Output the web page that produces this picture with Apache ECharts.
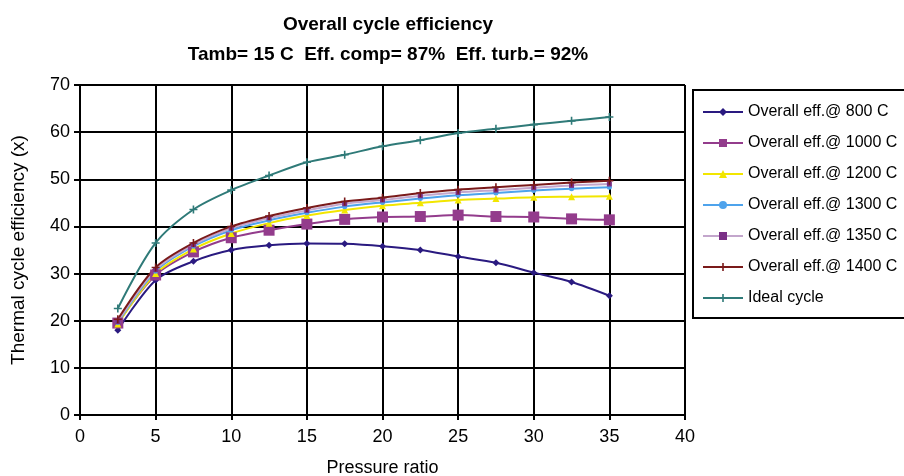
<!DOCTYPE html>
<html>
<head>
<meta charset="utf-8">
<script src="https://cdn.jsdelivr.net/npm/echarts@6/dist/echarts.min.js"></script>
<style>
  html, body { margin: 0; padding: 0; background: #fff; }
  #chart { width: 904px; height: 476px; }
</style>
</head>
<body>
<div id="chart"></div>
<script>
  // pressure ratios where the points sit
  var pressureRatio = [2.5, 5, 7.5, 10, 12.5, 15, 17.5, 20, 22.5, 25, 27.5, 30, 32.5, 35]

  // efficiencies (%)
  var eff800 = [18.0, 28.6, 32.6, 35.0, 36.0, 36.4, 36.3, 35.8, 35.0, 33.6, 32.3, 30.2, 28.2, 25.3]
  var eff1000 = [19.5, 29.7, 34.6, 37.6, 39.2, 40.5, 41.5, 42.0, 42.1, 42.4, 42.1, 42.0, 41.6, 41.4]
  var eff1200 = [19.3, 30.0, 35.2, 38.5, 40.7, 42.3, 43.5, 44.4, 45.0, 45.6, 45.9, 46.2, 46.3, 46.4]
  var eff1300 = [19.6, 30.5, 35.8, 39.2, 41.3, 42.9, 44.2, 45.1, 45.9, 46.6, 47.1, 47.6, 48.0, 48.3]
  var eff1350 = [19.8, 30.8, 36.1, 39.6, 41.8, 43.4, 44.8, 45.6, 46.5, 47.2, 47.7, 48.2, 48.7, 49.0]
  var eff1400 = [20.3, 31.3, 36.5, 40.0, 42.2, 43.9, 45.3, 46.1, 47.1, 47.8, 48.3, 48.8, 49.3, 49.7]
  var effIdeal = [22.6, 36.5, 43.6, 47.7, 50.8, 53.6, 55.2, 57.0, 58.3, 59.8, 60.7, 61.6, 62.4, 63.2]

  var seriesNames = ['Overall eff.@ 800 C', 'Overall eff.@ 1000 C', 'Overall eff.@ 1200 C',
    'Overall eff.@ 1300 C', 'Overall eff.@ 1350 C', 'Overall eff.@ 1400 C', 'Ideal cycle']

  var fontFam = '"Liberation Sans", Arial, sans-serif'

  // small plus sign used as marker
  var plusPath = 'path://M4,0 L6,0 L6,4 L10,4 L10,6 L6,6 L6,10 L4,10 L4,6 L0,6 L0,4 L4,4 Z'

  function pairs(ys) {
    return pressureRatio.map(function (x, i) { return [x, ys[i]] })
  }

  // one line series
  function makeSeries(name, ys, color, symbol, size, lineColor) {
    return {
      name: name,
      type: 'line',
      smooth: 0.3,
      data: pairs(ys),
      symbol: symbol,
      symbolSize: size,
      itemStyle: { color: color },
      lineStyle: { color: lineColor || color, width: 2 }
    }
  }

  var chart = echarts.init(document.getElementById('chart'))
  chart.setOption({
    animation: false,
    textStyle: { fontFamily: fontFam },
    title: {
      text: 'Overall cycle efficiency',
      subtext: 'Tamb= 15 C  Eff. comp= 87%  Eff. turb.= 92%',
      left: 383,
      top: 10,
      textAlign: 'center',
      itemGap: 11,
      textStyle: { fontFamily: fontFam, fontSize: 19, fontWeight: 'bold', color: '#000' },
      subtextStyle: { fontFamily: fontFam, fontSize: 19, fontWeight: 'bold', color: '#000' }
    },
    grid: { left: 80, top: 85, right: 219, bottom: 61, outerBoundsMode: 'none' },
    legend: {
      orient: 'vertical',
      left: 697,
      top: 99,
      itemGap: 15,
      itemWidth: 40,
      itemHeight: 10,
      textStyle: { fontFamily: fontFam, fontSize: 16, color: '#000' },
      data: seriesNames
    },
    graphic: [{
      type: 'rect',
      shape: { x: 693, y: 90, width: 260, height: 228 },
      style: { fill: 'none', stroke: '#000', lineWidth: 2 }
    }],
    xAxis: {
      type: 'value',
      min: 0,
      max: 40,
      interval: 5,
      name: 'Pressure ratio',
      nameLocation: 'middle',
      nameGap: 44,
      nameTextStyle: { fontFamily: fontFam, fontSize: 18, color: '#000' },
      axisLine: { lineStyle: { color: '#000', width: 2 } },
      axisTick: { show: true, length: 5, lineStyle: { color: '#000', width: 2 } },
      axisLabel: { fontFamily: fontFam, fontSize: 18, color: '#000', margin: 13 },
      splitLine: { show: true, lineStyle: { color: '#000', width: 2 } }
    },
    yAxis: {
      type: 'value',
      min: 0,
      max: 70,
      interval: 10,
      name: 'Thermal cycle efficiency (x)',
      nameLocation: 'middle',
      nameGap: 52,
      nameTextStyle: { fontFamily: fontFam, fontSize: 19, color: '#000' },
      axisLine: { show: true, lineStyle: { color: '#000', width: 2 } },
      axisTick: { show: true, length: 6, lineStyle: { color: '#000', width: 2 } },
      axisLabel: { fontFamily: fontFam, fontSize: 18, color: '#000', margin: 10 },
      splitLine: { show: true, lineStyle: { color: '#000', width: 2 } }
    },
    series: [
      makeSeries(seriesNames[0], eff800, '#2a1a80', 'diamond', 7),
      makeSeries(seriesNames[1], eff1000, '#933c8c', 'rect', 11),
      makeSeries(seriesNames[2], eff1200, '#f2e600', 'triangle', 7),
      makeSeries(seriesNames[3], eff1300, '#4ea3ec', 'circle', 5),
      makeSeries(seriesNames[4], eff1350, '#7a2f86', 'rect', 5, '#c3a6cc'),
      makeSeries(seriesNames[5], eff1400, '#7a1a1a', plusPath, 8),
      makeSeries(seriesNames[6], effIdeal, '#2f7a78', plusPath, 8)
    ]
  })
</script>
</body>
</html>
